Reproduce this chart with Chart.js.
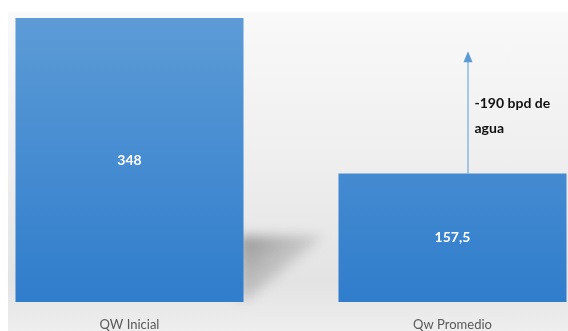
<!DOCTYPE html>
<html>
<head>
<meta charset="utf-8">
<script src="https://cdn.jsdelivr.net/npm/chart.js@4.4.0/dist/chart.umd.min.js"></script>
<style>
    html, body { margin: 0; padding: 0; background: #ffffff; overflow: hidden; }
    body { width: 568px; height: 331px; position: relative; }
    #bg {
        position: absolute; left: 8px; top: 12px; width: 560px; height: 319px;
        background: linear-gradient(to bottom, #f9f9f9 0%, #efefef 45%, #e3e3e3 85%, #eeeeee 100%);
    }
    #wrap { position: absolute; left: -32px; top: 0; width: 646px; height: 331px; }
</style>
</head>
<body>
<div id="bg"></div>
<div id="wrap"><canvas id="chart"></canvas></div>
<script>
const categories = ['QW Inicial', 'Qw Promedio'];
const caudalAgua = [348, 157.5];
const arrowTop   = 306;
const noteLines  = ['-190 bpd de', 'agua'];

const fontFamily = 'Lato, "Open Sans", "Liberation Sans", sans-serif';

const barGradient = (ctx) => {
    const area = ctx.chart.chartArea;
    if (!area) return '#4a8fd3';
    const g = ctx.chart.ctx.createLinearGradient(0, area.top, 0, area.bottom);
    g.addColorStop(0, '#5c9bd6');
    g.addColorStop(1, '#307dcc');
    return g;
};

// perspective shadow behind the first bar
const shadowPlugin = {
    id: 'shadow',
    beforeDatasetsDraw(chart) {
        const bar = chart.getDatasetMeta(0).data[0];
        const c = chart.ctx;
        const right = bar.x + bar.width / 2;
        const base = bar.base;
        c.save();
        c.filter = 'blur(6px)';
        const g = c.createLinearGradient(right, base - 66, right + 60, base);
        g.addColorStop(0, 'rgba(80,80,80,0.55)');
        g.addColorStop(1, 'rgba(150,150,150,0.05)');
        c.fillStyle = g;
        c.beginPath();
        c.moveTo(right - 4, base - 66);
        c.lineTo(right + 80, base - 66);
        c.lineTo(right + 4, base - 2);
        c.lineTo(right - 4, base - 2);
        c.closePath();
        c.fill();
        c.restore();
    }
};

const labelsPlugin = {
    id: 'valueLabels',
    afterDatasetsDraw(chart) {
        const c = chart.ctx;
        const meta = chart.getDatasetMeta(0);
        c.save();
        c.fillStyle = '#ffffff';
        c.font = 'bold 14px ' + fontFamily;
        c.textAlign = 'center';
        c.textBaseline = 'middle';
        meta.data.forEach((bar, i) => {
            const txt = String(caudalAgua[i]).replace('.', ',');
            c.fillText(txt, bar.x, (bar.y + bar.base) / 2);
        });

        // arrow and note over the second bar
        const bar2 = meta.data[1];
        const ax = bar2.x + 15;
        const yTop = chart.scales.y.getPixelForValue(arrowTop);
        c.strokeStyle = '#5b9bd5';
        c.fillStyle = '#5b9bd5';
        c.lineWidth = 1;
        c.beginPath();
        c.moveTo(ax + 0.5, bar2.y);
        c.lineTo(ax + 0.5, yTop + 8);
        c.stroke();
        c.beginPath();
        c.moveTo(ax + 0.5, yTop - 1);
        c.lineTo(ax - 4, yTop + 10);
        c.lineTo(ax + 5, yTop + 10);
        c.closePath();
        c.fill();

        c.fillStyle = '#111111';
        c.font = 'bold 14px ' + fontFamily;
        c.textAlign = 'left';
        noteLines.forEach((line, i) => {
            c.fillText(line, ax + 7, yTop + 51 + i * 25);
        });
        c.restore();
    }
};

new Chart(document.getElementById('chart'), {
    type: 'bar',
    data: {
        labels: categories,
        datasets: [{
            data: caudalAgua,
            backgroundColor: barGradient,
            borderWidth: 0,
            barPercentage: 0.706,
            categoryPercentage: 1
        }]
    },
    options: {
        responsive: true,
        maintainAspectRatio: false,
        animation: false,
        layout: { padding: { top: 18, left: 0, right: 0, bottom: 0 } },
        plugins: {
            legend: { display: false },
            tooltip: { enabled: false }
        },
        scales: {
            y: {
                display: false,
                min: 0,
                max: 348
            },
            x: {
                grid: { display: false, drawTicks: false },
                border: { display: false },
                ticks: {
                    color: '#595959',
                    font: { family: fontFamily, size: 13 },
                    padding: 15
                },
                afterFit(scale) { scale.height = 29; }
            }
        }
    },
    plugins: [shadowPlugin, labelsPlugin]
});
</script>
</body>
</html>
